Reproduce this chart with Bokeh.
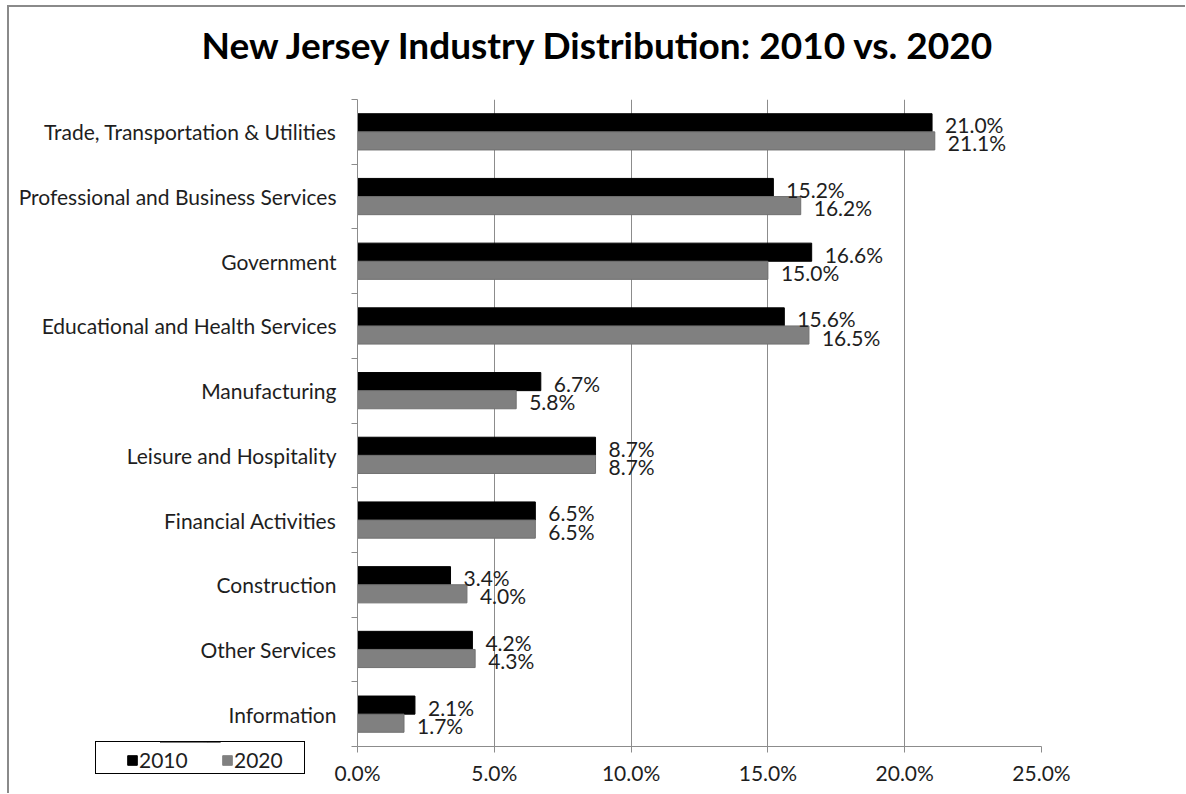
from bokeh.plotting import figure
from bokeh.layouts import column
from bokeh.models import (Range1d, FixedTicker, Title,
                          NumeralTickFormatter, ColumnDataSource, Legend, LegendItem)
from bokeh.transform import dodge
from bokeh.core.properties import value
from bokeh.embed import file_html
from bokeh.resources import INLINE

categories = ["Trade, Transportation & Utilities", "Professional and Business Services",
              "Government", "Educational and Health Services", "Manufacturing",
              "Leisure and Hospitality", "Financial Activities", "Construction",
              "Other Services", "Information"]
values_2010 = [21.0, 15.2, 16.6, 15.6, 6.7, 8.7, 6.5, 3.4, 4.2, 2.1]
values_2020 = [21.1, 16.2, 15.0, 16.5, 5.8, 8.7, 6.5, 4.0, 4.3, 1.7]
series_names = ["2010", "2020"]
x_ticks = [0.0, 5.0, 10.0, 15.0, 20.0, 25.0]

FONT = "Lato"
TXT = "#1e1e1e"
C2010 = "#000000"
C2020 = "#808080"
n = len(categories)
centers = [n - i - 0.5 for i in range(n)]      # category slot centres, top to bottom
boundaries = list(range(n + 1))                  # slot boundaries (tick marks)

src = ColumnDataSource(dict(
    pos=centers,
    v2010=[v / 100 for v in values_2010],
    v2020=[v / 100 for v in values_2020],
    l2010=[f"{v:.1f}%" for v in values_2010],
    l2020=[f"{v:.1f}%" for v in values_2020],
))

p = figure(width=1178, height=788, output_backend="svg", toolbar_location=None,
           y_range=Range1d(0, n),
           x_range=Range1d(0, x_ticks[-1] / 100),
           title_location=None,
           min_border_left=348, min_border_right=146, min_border_top=92, min_border_bottom=49)
p.styles = {"border-left": "2px solid #8a8a8a", "border-top": "2px solid #8a8a8a",
            "margin-left": "7px", "margin-top": "5px"}
p.outline_line_color = None
p.background_fill_color = "white"
p.border_fill_color = "white"

# x axis
xa = p.xaxis[0]
xa.ticker = FixedTicker(ticks=[t / 100 for t in x_ticks])
xa.formatter = NumeralTickFormatter(format="0.0%")
xa.major_label_text_font = FONT
xa.major_label_text_font_size = "21px"
xa.major_label_text_color = TXT
xa.axis_line_color = "#8c8c8c"
xa.major_tick_line_color = "#8c8c8c"
xa.major_tick_out = 6
xa.major_tick_in = 0
xa.minor_tick_line_color = None
xa.major_label_standoff = 7

p.xgrid.ticker = FixedTicker(ticks=[t / 100 for t in x_ticks[1:]])
p.xgrid.grid_line_color = "#8c8c8c"
p.ygrid.grid_line_color = None

# y axis: names at slot centres, tick marks (minor) at slot boundaries
ya = p.yaxis[0]
ya.ticker = FixedTicker(ticks=centers, minor_ticks=boundaries)
ya.major_label_overrides = {c: name for c, name in zip(centers, categories)}
ya.axis_line_color = "#8c8c8c"
ya.major_tick_line_color = None
ya.major_tick_out = 0
ya.major_tick_in = 0
ya.minor_tick_line_color = "#8c8c8c"
ya.minor_tick_out = 6
ya.minor_tick_in = 0
ya.major_label_text_font = FONT
ya.major_label_text_font_size = "21px"
ya.major_label_text_color = TXT
ya.major_label_standoff = 15

r1 = p.hbar(y=dodge("pos", 0.14), right="v2010", left=0, height=0.28,
            source=src, fill_color=C2010, line_color=C2010)
r2 = p.hbar(y=dodge("pos", -0.14), right="v2020", left=0, height=0.28,
            source=src, fill_color=C2020, line_color="#707070", line_width=1)

p.text(x="v2010", y=dodge("pos", 0.14), text="l2010", source=src,
       x_offset=13, y_offset=2, text_baseline="middle", text_align="left",
       text_font=value(FONT), text_font_size="21px", text_color=TXT)
p.text(x="v2020", y=dodge("pos", -0.14), text="l2020", source=src,
       x_offset=13, y_offset=2, text_baseline="middle", text_align="left",
       text_font=value(FONT), text_font_size="21px", text_color=TXT)

# blank gap between plot area and title, then the title itself
gap = Title(text=" ", text_font=FONT, text_font_size="4px", standoff=26,
            text_color="white", align="left")
p.add_layout(gap, "above")

title = Title(text="New Jersey Industry Distribution: 2010 vs. 2020",
              text_font=FONT, text_font_size="37px", text_font_style="bold",
              text_color="#000000", align="left", offset=-156, standoff=0)
p.add_layout(title, "above")

# legend box, laid over the bottom-left corner of the chart
lg = figure(width=210, height=33, output_backend="svg", toolbar_location=None,
            x_axis_location=None, y_axis_location=None, min_border=0,
            x_range=Range1d(0, 1), y_range=Range1d(-10, -9))
lg.outline_line_color = None
lg.background_fill_color = "white"
lg.border_fill_color = "white"
lg.grid.visible = False
lg.styles = {"margin-top": "-52px", "margin-left": "95px", "border": "1px solid #000000",
             "position": "relative", "z-index": "5"}
# swatch renderers (same data, outside this small frame's ranges)
k1 = lg.hbar(y="pos", right="v2010", left=0, height=0.28, source=src,
             fill_color=C2010, line_color=C2010)
k2 = lg.hbar(y="pos", right="v2020", left=0, height=0.28, source=src,
             fill_color=C2020, line_color=C2020)

legend = Legend(items=[LegendItem(label=series_names[0], renderers=[k1]),
                       LegendItem(label=series_names[1], renderers=[k2])],
                orientation="horizontal", location=(30, 3))
legend.border_line_color = None
legend.background_fill_alpha = 0
legend.label_text_font = FONT
legend.label_text_font_size = "21px"
legend.label_text_color = TXT
legend.label_text_baseline = "middle"
legend.glyph_width = 12
legend.glyph_height = 12
legend.label_standoff = 1
legend.spacing = 32
legend.padding = 0
legend.margin = 0
legend.label_width = 50
legend.label_height = 25
lg.add_layout(legend)

root = column(p, lg, spacing=0)
open("out.html", "w").write(file_html(root, INLINE))
